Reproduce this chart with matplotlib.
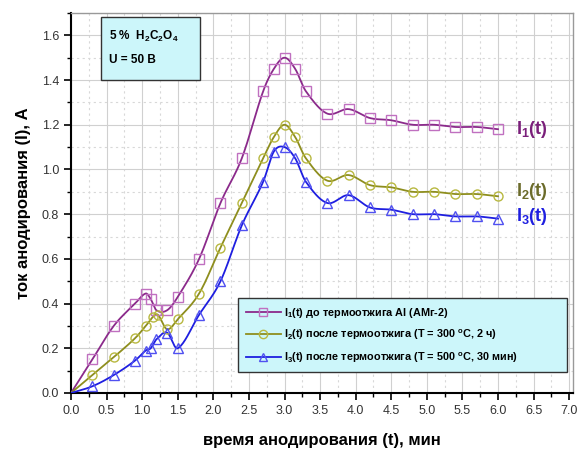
import numpy as np
import matplotlib
matplotlib.use('Agg')
import matplotlib.pyplot as plt
from matplotlib.patches import Rectangle
from matplotlib.ticker import MultipleLocator

plt.rcParams['font.family'] = ['Liberation Sans', 'DejaVu Sans']
plt.rcParams['mathtext.fontset'] = 'custom'
plt.rcParams['mathtext.bf'] = 'Liberation Sans:bold'
plt.rcParams['mathtext.default'] = 'bf'

# I1(t) before annealing
t1 = [0.0, 0.3, 0.6, 0.9, 1.05, 1.12, 1.2, 1.35, 1.5, 1.8, 2.1, 2.4, 2.7, 2.85,
      3.0, 3.15, 3.3, 3.6, 3.9, 4.2, 4.5, 4.8, 5.1, 5.4, 5.7, 6.0]
i1 = [0.0, 0.15, 0.30, 0.40, 0.445, 0.42, 0.37, 0.37, 0.43, 0.60, 0.85, 1.05, 1.35, 1.45,
      1.50, 1.45, 1.35, 1.25, 1.27, 1.23, 1.22, 1.20, 1.20, 1.19, 1.19, 1.18]
# I2(t) after 300 C, 2 h
t2 = [0.0, 0.3, 0.6, 0.9, 1.05, 1.15, 1.22, 1.35, 1.5, 1.8, 2.1, 2.4, 2.7, 2.85,
      3.0, 3.15, 3.3, 3.6, 3.9, 4.2, 4.5, 4.8, 5.1, 5.4, 5.7, 6.0]
i2 = [0.0, 0.08, 0.16, 0.245, 0.30, 0.34, 0.35, 0.285, 0.33, 0.445, 0.65, 0.85, 1.05, 1.145,
      1.20, 1.145, 1.05, 0.95, 0.975, 0.93, 0.92, 0.90, 0.90, 0.89, 0.89, 0.88]
# I3(t) after 500 C, 30 min
t3 = [0.0, 0.3, 0.6, 0.9, 1.05, 1.12, 1.2, 1.35, 1.5, 1.8, 2.1, 2.4, 2.7, 2.85,
      3.0, 3.15, 3.3, 3.6, 3.9, 4.2, 4.5, 4.8, 5.1, 5.4, 5.7, 6.0]
i3 = [0.0, 0.03, 0.08, 0.145, 0.19, 0.20, 0.24, 0.27, 0.20, 0.35, 0.50, 0.75, 0.945, 1.08,
      1.10, 1.05, 0.945, 0.85, 0.885, 0.83, 0.82, 0.80, 0.80, 0.79, 0.79, 0.78]

labels = [r'I$_1$(t) до термоотжига Al (АМг-2)',
          r'I$_2$(t) после термоотжига (T = 300 $^{o}$C, 2 ч)',
          r'I$_3$(t) после термоотжига (T = 500 $^{o}$C, 30 мин)']


def smooth(x, y, n=20):
    # cubic hermite through the points, tangents from neighbours
    x = np.asarray(x, float); y = np.asarray(y, float)
    m = np.zeros_like(y)
    m[1:-1] = (y[2:] - y[:-2]) / (x[2:] - x[:-2])
    m[0] = (y[1] - y[0]) / (x[1] - x[0])
    m[-1] = (y[-1] - y[-2]) / (x[-1] - x[-2])
    xs, ys = [], []
    for k in range(len(x) - 1):
        h = x[k + 1] - x[k]
        s = np.linspace(0, 1, n, endpoint=False)
        h00 = 2*s**3 - 3*s**2 + 1; h10 = s**3 - 2*s**2 + s
        h01 = -2*s**3 + 3*s**2; h11 = s**3 - s**2
        xs.append(x[k] + s*h)
        ys.append(h00*y[k] + h10*h*m[k] + h01*y[k+1] + h11*h*m[k+1])
    xs.append([x[-1]]); ys.append([y[-1]])
    return np.concatenate(xs), np.concatenate(ys)


fig = plt.figure(figsize=(5.85, 4.54), dpi=100)
ax = fig.add_axes([0.1214, 0.1344, 0.8576, 0.8370])

series = [
    (t1, i1, '#8B2A8B', '#C070C0', 's'),
    (t2, i2, '#8E8E1E', '#B8B840', 'o'),
    (t3, i3, '#1E1EE0', '#5050F0', '^'),
]
handles = []
for (t, i, lc, mc, mk), lab in zip(series, labels):
    xs, ys = smooth(t, i)
    ax.plot(xs, ys, color=lc, lw=1.3, zorder=3)
    ax.plot(t[1:], i[1:], mk, ms=6.5, mfc='none', mec=mc, mew=1.0, zorder=4)
    h, = ax.plot([], [], color=lc, lw=1.3, marker=mk, ms=6, mfc='none', mec=mc, mew=1.0)
    handles.append(h)

ax.set_xlim(0, 7.05)
ax.set_ylim(0, 1.7)
ax.xaxis.set_major_locator(MultipleLocator(0.5))
ax.xaxis.set_minor_locator(MultipleLocator(0.25))
ax.yaxis.set_major_locator(MultipleLocator(0.2))
ax.yaxis.set_minor_locator(MultipleLocator(0.1))
ax.xaxis.set_major_formatter(plt.FuncFormatter(lambda v, p: f'{v:.1f}'))
ax.yaxis.set_major_formatter(plt.FuncFormatter(lambda v, p: f'{v:.1f}'))
ax.grid(which='major', color='#D0D0D0', lw=0.8, zorder=0)
ax.grid(which='minor', color='#D8D8D8', lw=0.8, ls=(0, (2, 3)), zorder=0)
ax.set_axisbelow(True)
ax.tick_params(which='major', direction='out', length=5, width=1.2, labelsize=9, labelcolor='#333333')
ax.tick_params(which='minor', direction='out', length=3, width=1.0)
ax.tick_params(top=False, right=False, which='both')
for s in ['left', 'bottom']:
    ax.spines[s].set_linewidth(1.5)
for s in ['top', 'right']:
    ax.spines[s].set_color('#999999')
    ax.spines[s].set_linewidth(1.0)

ax.set_xlabel('время анодирования (t), мин', fontsize=12, fontweight='bold', labelpad=12)
ax.set_ylabel('ток анодирования (I), А', fontsize=12, fontweight='bold', labelpad=8)

# concentration / voltage box
ax.add_patch(Rectangle((0.06, 0.824), 0.197, 0.166, transform=ax.transAxes,
                       facecolor='#CCF6FA', edgecolor='#333333', lw=1.0, zorder=5))
ax.text(0.075, 0.937, r'5 %  H$_2$C$_2$O$_4$', transform=ax.transAxes,
        fontsize=8.5, fontweight='bold', va='center', zorder=6)
ax.text(0.075, 0.876, 'U = 50 В', transform=ax.transAxes,
        fontsize=8.5, fontweight='bold', va='center', zorder=6)

# curve labels
ax.text(6.25, 1.18, r'I$_1$(t)', color='#7A1F7A', fontsize=13, fontweight='bold', va='center')
ax.text(6.25, 0.90, r'I$_2$(t)', color='#6B6B2A', fontsize=13, fontweight='bold', va='center')
ax.text(6.25, 0.79, r'I$_3$(t)', color='#1E1EE0', fontsize=13, fontweight='bold', va='center')

leg = ax.legend(handles, labels, loc='lower left', bbox_to_anchor=(0.323, 0.04, 0.677, 0.21),
                mode='expand', prop={'weight': 'bold', 'size': 7.8},
                frameon=True, fancybox=False, handlelength=3.2, labelspacing=0.75,
                borderpad=0.7, handletextpad=0.3)
leg.get_frame().set_facecolor('#CCF6FA')
leg.get_frame().set_edgecolor('#333333')
leg.get_frame().set_alpha(1.0)
leg.set_zorder(6)

fig.savefig('out.png', dpi=100)
